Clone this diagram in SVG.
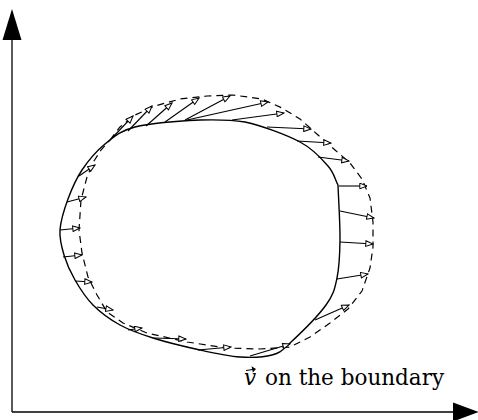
<svg xmlns="http://www.w3.org/2000/svg" width="478" height="420" viewBox="0 0 478 420">
<style>
.ax{stroke:#000;stroke-width:1.3;fill:none}
.sol{stroke:#000;stroke-width:1.4;fill:none;stroke-linejoin:round}
.dash{stroke:#000;stroke-width:1.2;fill:none;stroke-dasharray:7 5}
.v{stroke:#000;stroke-width:1.1;fill:none;marker-end:url(#ah)}
</style>
<defs>
<marker id="ah" viewBox="0 0 9 7" markerWidth="9" markerHeight="7" refX="8" refY="3.5" orient="auto" markerUnits="userSpaceOnUse">
<path d="M0.8,0.7 L8,3.5 L0.8,6.3 Z" fill="#fff" stroke="#000" stroke-width="1"/>
</marker>
</defs>
<rect width="478" height="420" fill="#fff"/>
<g id="axes">
<line class="ax" x1="12" y1="38" x2="12" y2="412"/>
<polygon points="12,9 2.5,40 21.5,40" fill="#000"/>
<line class="ax" x1="12" y1="412" x2="455" y2="412"/>
<polygon points="479,412 453,402.5 453,421.5" fill="#000"/>
</g>
<g id="boundary">
<path class="sol" d="M60,230 C60.7,220.7 64.3,209 68,199 C71.7,189 75.8,179.2 82,170 C88.2,160.8 96.2,151.2 105,144 C113.8,136.8 119.2,131 135,127 C150.8,123 181.7,120.8 200,120 C218.3,119.5 230,119.5 245,122 C261.7,125.7 286.2,134.7 300,142 C313.8,149.3 321.7,158.8 328,166 C334.3,173.2 334.7,178.7 338,185 C338.7,203.3 340.2,224.5 340,240 C339.8,255.5 339.3,267.2 337,278 C334.7,288.8 333.8,294.2 326,305 C318.2,315.8 299,334.7 290,343 C281,351.3 280.3,352.7 272,355 C263.7,357.3 252,357.8 240,357 C228,356.2 214.5,353.2 200,350 C185.5,346.8 166.3,342.2 153,338 C139.7,333.8 130,330.5 120,325 C110,319.5 100.5,312.5 93,305 C85.5,297.5 79.8,288.3 75,280 C70.2,271.7 66.5,263.3 64,255 C61.5,246.7 59.3,239.3 60,230 Z"/>
</g>
<g id="displaced-boundary">
<polygon class="dash" points="110,140 120,127 135,115 155,106 180,99 207,96 233,95 262,99 282,108 300,119 318,135 335,150 350,163 362,179 370,198 373,222 373,247 370,268 362,291 348,309 330,323 310,337 290,347 260,349 227,348 187,342 147,333 123,323 107,312 97,295 88,277 82,253 79,230 81,200 87,177 94,161 101,150"/>
</g>
<g id="velocity-arrows">
<line class="v" x1="112" y1="138" x2="133" y2="116"/>
<line class="v" x1="128" y1="131" x2="152" y2="106"/>
<line class="v" x1="146" y1="126" x2="172" y2="103"/>
<line class="v" x1="165" y1="122" x2="199" y2="98"/>
<line class="v" x1="185" y1="120" x2="230" y2="96"/>
<line class="v" x1="187" y1="120" x2="268" y2="102"/>
<line class="v" x1="232" y1="120" x2="284" y2="113"/>
<line class="v" x1="267" y1="127" x2="311" y2="129"/>
<line class="v" x1="297" y1="141" x2="331" y2="143"/>
<line class="v" x1="318" y1="157" x2="349" y2="161"/>
<line class="v" x1="339" y1="186" x2="367" y2="186"/>
<line class="v" x1="340" y1="211" x2="374" y2="218"/>
<line class="v" x1="340" y1="242" x2="373" y2="244"/>
<line class="v" x1="337" y1="279" x2="368" y2="274"/>
<line class="v" x1="315" y1="320" x2="349" y2="305"/>
<line class="v" x1="250" y1="356" x2="290" y2="344"/>
<line class="v" x1="198" y1="350" x2="231" y2="347"/>
<line class="v" x1="154" y1="338" x2="186" y2="339"/>
<line class="v" x1="128" y1="330" x2="142" y2="328"/>
<line class="v" x1="97" y1="307" x2="113" y2="310"/>
<line class="v" x1="75" y1="281" x2="92" y2="282"/>
<line class="v" x1="63" y1="257" x2="82" y2="255"/>
<line class="v" x1="60" y1="230" x2="80" y2="228"/>
<line class="v" x1="67" y1="202" x2="86" y2="197"/>
<line class="v" x1="79" y1="176" x2="95" y2="165"/>
</g>
<g id="label">
<text font-family="'DejaVu Serif', 'Liberation Serif', serif" font-size="21.5" fill="#000" y="385"><tspan x="244" font-style="italic">v</tspan><tspan x="265">on the boundary</tspan></text>
<path d="M246,370.5 L253,369.5" stroke="#000" stroke-width="1.1" fill="none"/>
<path d="M256,369 L251.5,366.2 L252.3,369.7 L252.8,372.6 Z" fill="#000"/>
</g>
</svg>
